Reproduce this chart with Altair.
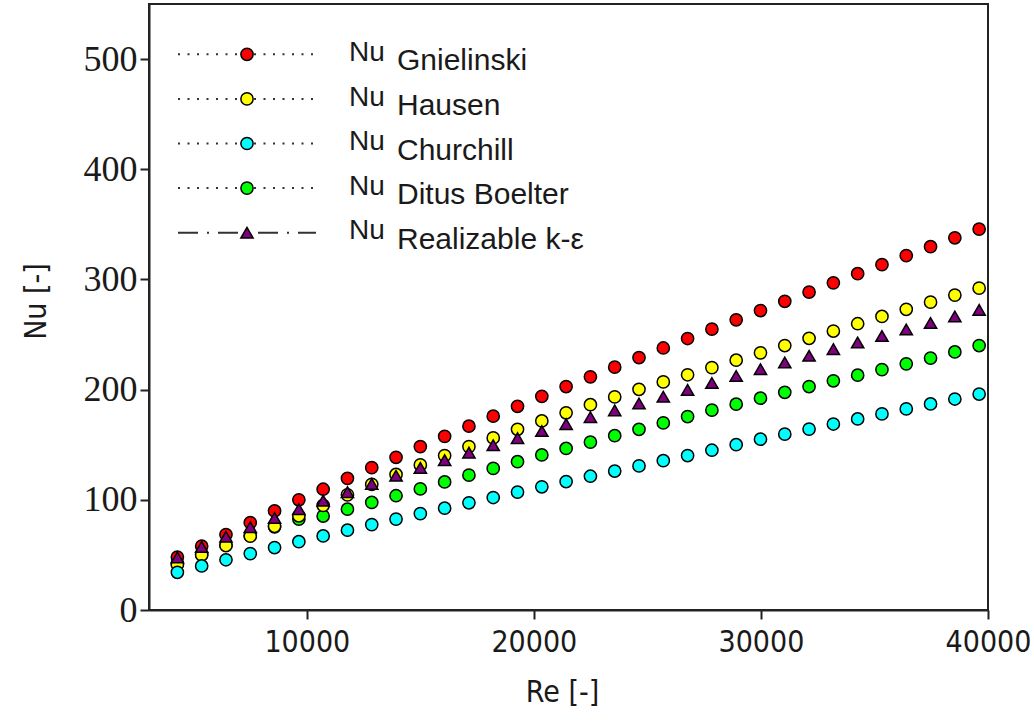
import altair as alt
import pandas as pd

# ---------------- data ----------------
re_values = [4300, 5370, 6440, 7510, 8580, 9650, 10720, 11790, 12860, 13930,
             15000, 16070, 17140, 18210, 19280, 20350, 21420, 22490, 23560, 24630,
             25700, 26770, 27840, 28910, 29980, 31050, 32120, 33190, 34260, 35330,
             36400, 37470, 38540, 39610]

nu_gnielinski = [48, 58, 68.5, 79.3, 89.9, 100, 109.6, 119.5, 129.2, 138.6,
                 148.3, 157.6, 166.8, 175.9, 184.9, 193.9, 202.8, 211.6, 220.4, 229.1,
                 237.8, 246.4, 254.9, 263.4, 271.8, 280.2, 288.6, 296.9, 305.2, 313.4,
                 321.6, 329.7, 337.8, 345.7]
nu_hausen = [41, 50, 58.5, 67, 76, 85.5, 95, 104.5, 114, 123,
             131.7, 140.2, 148.3, 156.2, 164, 171.6, 179, 186.3, 193.4, 200.3,
             207, 213.5, 220, 226.7, 233.4, 240, 246.6, 253.2, 259.8, 266.4,
             272.9, 279.4, 285.8, 292.1]
nu_churchill = [34.2, 40, 45.6, 51.2, 56.7, 62, 67.2, 72.4, 77.5, 82.5,
                87.5, 92.4, 97.3, 102.1, 107, 111.8, 116.6, 121.4, 126.1, 130.8,
                135.5, 140.2, 145, 150, 155, 159.6, 164.2, 168.8, 173.4, 178,
                182.5, 187, 191.5, 196]
nu_dittus = [42, 50.5, 59, 67.5, 75.5, 82.5, 85.3, 91.5, 97.6, 103.7,
             109.9, 116.2, 122.4, 128.5, 134.6, 140.7, 146.6, 152.4, 158.2, 164,
             169.8, 175.6, 181.4, 186.8, 192.2, 197.6, 202.8, 208, 213.1, 218.2,
             223.4, 228.6, 234.2, 240]
nu_realizable = [47.8, 57.3, 66.5, 75.2, 83.5, 91.5, 99.3, 107, 114.5, 121.8,
                 129, 136, 142.8, 149.5, 156, 162.4, 168.7, 175, 181.2, 187.4,
                 193.6, 199.8, 206, 212.4, 218.5, 224.6, 230.7, 236.8, 242.8, 248.7,
                 254.6, 260.5, 266.4, 272.4]

series_names = ["Gnielinski", "Hausen", "Churchill", "Ditus Boelter", "Realizable k-ε"]
series_values = [nu_gnielinski, nu_hausen, nu_churchill, nu_dittus, nu_realizable]
series_colors = ["#ff0000", "#ffff00", "#00ffff", "#00ff00", "#800080"]
series_shapes = ["circle", "circle", "circle", "circle", "triangle-up"]
series_sizes = [150, 150, 150, 150, 250]
series_dash = [[2, 7.5], [2, 7.5], [2, 7.5], [2, 7.5], [20, 9, 2, 9]]
draw_order = ["Gnielinski", "Ditus Boelter", "Hausen", "Churchill", "Realizable k-ε"]

x_ticks = [10000, 20000, 30000, 40000]
y_ticks = [0, 100, 200, 300, 400, 500]

rows = []
for name in draw_order:
    vals = series_values[series_names.index(name)]
    for r, n in zip(re_values, vals):
        rows.append({"series": name, "Re": r, "Nu": n})
df = pd.DataFrame(rows)
legend_df = pd.DataFrame({"series": series_names})

NARROW = "Liberation Sans Narrow, DejaVu Sans Condensed, Arial Narrow, sans-serif"
SANS = "Liberation Sans, Arial, sans-serif"
SERIF = "Liberation Serif, Times New Roman, serif"
INK = "#1a1a1a"

fill_enc = alt.Fill("series:N", scale=alt.Scale(domain=series_names, range=series_colors), legend=None)
shape_enc = alt.Shape("series:N", scale=alt.Scale(domain=series_names, range=series_shapes), legend=None)
size_enc = alt.Size("series:N", scale=alt.Scale(domain=series_names, range=series_sizes), legend=None)

points = alt.Chart(df).mark_point(
    filled=True, stroke="black", strokeWidth=1.5, opacity=1, fillOpacity=1
).encode(
    x=alt.X("Re:Q",
            scale=alt.Scale(domain=[3050, 40000], nice=False, zero=False),
            axis=alt.Axis(values=x_ticks, format="d", title="Re [-]",
                          labelFont=NARROW, labelFontSize=30, labelColor=INK,
                          labelPadding=8, tickSize=9, tickWidth=2, tickColor="#222",
                          domainColor="#222", domainWidth=2, grid=False,
                          titleFont=NARROW, titleFontSize=30, titleFontWeight="normal",
                          titleColor=INK, titlePadding=20, titleX=413, labelFlush=False)),
    y=alt.Y("Nu:Q",
            scale=alt.Scale(domain=[0, 550], nice=False, zero=True),
            axis=alt.Axis(values=y_ticks, title="Nu [-]",
                          labelFont=SERIF, labelFontSize=36, labelColor=INK,
                          labelPadding=3, tickSize=9, tickWidth=2, tickColor="#222",
                          domainColor="#222", domainWidth=2, grid=False,
                          titleFont=NARROW, titleFontSize=30, titleFontWeight="normal",
                          titleColor=INK, titlePadding=32, titleY=297)),
    fill=fill_enc,
    shape=shape_enc,
    size=size_enc,
)

leg_y = alt.Y("series:N",
              scale=alt.Scale(type="point", domain=series_names, range=[50.3, 228.7], padding=0),
              axis=None)
leg_base = alt.Chart(legend_df).encode(y=leg_y)

leg_line = leg_base.mark_rule(strokeWidth=2, color="#333", strokeCap="butt").encode(
    x=alt.value(29), x2=alt.value(167),
    strokeDash=alt.StrokeDash("series:N",
                              scale=alt.Scale(domain=series_names, range=series_dash),
                              legend=None),
)
leg_sym = leg_base.mark_point(
    filled=True, stroke="black", strokeWidth=1.5, opacity=1, fillOpacity=1
).encode(x=alt.value(98), fill=fill_enc, shape=shape_enc, size=size_enc)

leg_nu = leg_base.mark_text(
    text="Nu", align="left", baseline="alphabetic", dy=6.7,
    font=SANS, fontSize=28, color=INK
).encode(x=alt.value(200))

leg_name = leg_base.mark_text(
    align="left", baseline="alphabetic", dy=16,
    font=SANS, fontSize=30, color=INK
).encode(x=alt.value(248), text="series:N")

chart = alt.layer(points, leg_line, leg_sym, leg_nu, leg_name).resolve_scale(
    y="independent"
).properties(
    width=839, height=606,
    autosize=alt.AutoSizeParams(type="none"),
    padding={"left": 149, "top": 4, "right": 46, "bottom": 111},
    background="white",
).configure_view(stroke="#222", strokeWidth=2)

chart.save("out.html", embed_options={"renderer": "svg", "actions": False})
